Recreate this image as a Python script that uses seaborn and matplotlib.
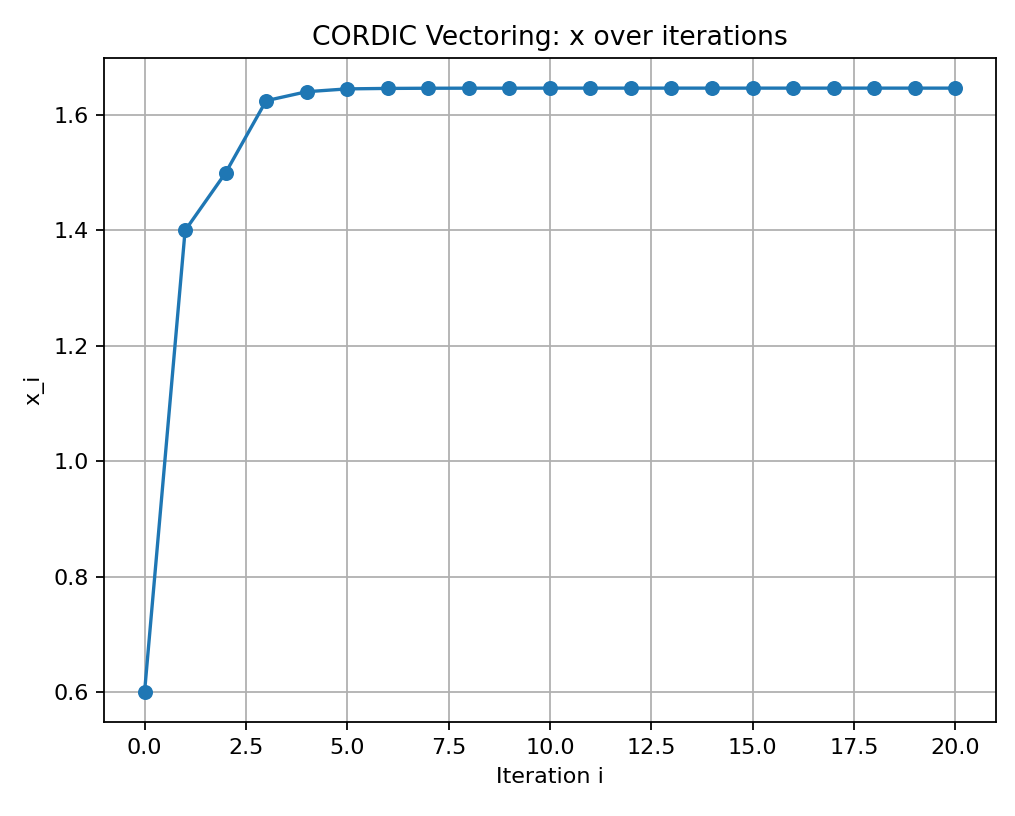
import numpy as np
import matplotlib
matplotlib.use("Agg")
import matplotlib.pyplot as plt
import seaborn as sns

# values
iterations = list(range(21))
x_values = [0.6, 1.4, 1.5, 1.625, 1.6406, 1.6455, 1.6463, 1.6466, 1.6467, 1.6467,
            1.6468, 1.6468, 1.6468, 1.6468, 1.6468, 1.6468, 1.6468, 1.6468,
            1.6468, 1.6468, 1.6468]

fig = plt.figure(figsize=(1015 / 160, 816 / 160), dpi=160)
ax = fig.add_axes([0.1025, 0.115, 0.8785, 0.814])

sns.lineplot(x=iterations, y=x_values, marker="o", color="#1f77b4",
             markeredgecolor="#1f77b4", markersize=6, linewidth=1.5, ax=ax)

ax.set_title("CORDIC Vectoring: x over iterations", fontsize=12)
ax.set_xlabel("Iteration i")
ax.set_ylabel("x_i")
ax.set_xticks(np.arange(0, 20.1, 2.5))
ax.grid(True, color="#b0b0b0", linewidth=0.8)

fig.savefig("out.png", dpi=160)
